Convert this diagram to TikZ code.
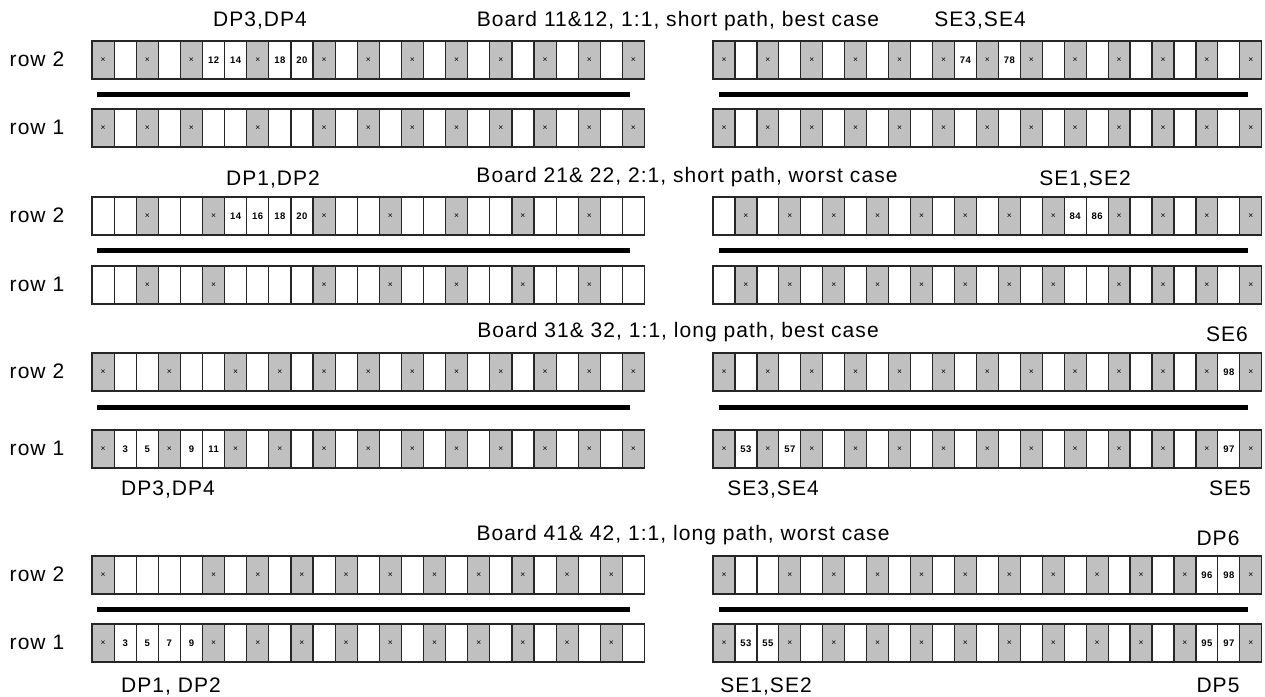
\documentclass[tikz,border=0pt]{standalone}
\usepackage{fontspec}
\setmainfont[LetterSpace=5]{Liberation Sans}
\usetikzlibrary{positioning,calc}
\definecolor{slotgray}{RGB}{192,192,192}
\tikzset{
  bd/slot/.style={draw=black!85, line width=1.2pt, fill=white, minimum height=38pt, inner sep=0pt, outer sep=0pt},
  bd/used/.style={bd/slot, fill=slotgray, font=\fontsize{8.5}{8.5}\selectfont},
  bd/frame/.style={draw=black!85, line width=1.4pt},
  bd/num/.style={font=\bfseries\fontsize{9.5}{9.5}\selectfont, inner sep=0pt},
  bd/bar/.style={line width=5pt, black},
  bd/title/.style={font=\fontsize{21}{21}\selectfont, inner sep=0pt, anchor=base},
  bd/rowlbl/.style={bd/title}
}
% one strip of 25 slots: name, left x, top y, slot width, grey slots
\newcommand{\slotrow}[5]{%
  \foreach \c in {1,...,25}
    \node[bd/slot, minimum width=#4pt] (#1-\c) at ({#2+(\c-0.5)*#4}, {#3+19}) {};
  \foreach \c in {#5}
    \node[bd/used, minimum width=#4pt] at (#1-\c) {×};
  \draw[bd/frame] (#1-1.north west) rectangle (#1-25.south east);
}
\newcommand{\slotnums}[2]{%
  \foreach \c/\t in {#2}
    \node[bd/num] at (#1-\c) {\t};
}

\begin{document}
\begin{tikzpicture}[x=1pt, y=-1pt]
  \useasboundingbox (0,0) rectangle (1265,696);

  % Board 11&12
  \node[bd/title] (t1) at (678,27) {Board 11\&12, 1:1, short path, best case};
  \node[bd/title] (t1dp) at (260,27) {DP3,DP4};
  \node[bd/title] (t1se) at (980,27) {SE3,SE4};
  \slotrow{b1r2L}{92}{41}{22.1}{1,3,5,8,11,13,15,17,19,21,23,25}
  \slotrow{b1r1L}{92}{109}{22.1}{1,3,5,8,11,13,15,17,19,21,23,25}
  \slotrow{b1r2R}{713}{41}{21.95}{1,3,...,25}
  \slotrow{b1r1R}{713}{109}{21.95}{1,3,...,25}
  \slotnums{b1r2L}{6/12,7/14,9/18,10/20}
  \slotnums{b1r2R}{12/74,14/78}

  % Board 21&22
  \node[bd/title] (t2) at (687,182) {Board 21\& 22, 2:1, short path, worst case};
  \node[bd/title] (t2dp) at (273,185) {DP1,DP2};
  \node[bd/title] (t2se) at (1085,185) {SE1,SE2};
  \slotrow{b2r2L}{92}{197}{22.1}{3,6,11,14,17,20,23}
  \slotrow{b2r1L}{92}{266}{22.1}{3,6,11,14,17,20,23}
  \slotrow{b2r2R}{713}{197}{21.95}{2,4,...,16,19,21,23,25}
  \slotrow{b2r1R}{713}{266}{21.95}{2,4,...,16,19,21,23,25}
  \slotnums{b2r2L}{7/14,8/16,9/18,10/20}
  \slotnums{b2r2R}{17/84,18/86}

  % Board 31&32
  \node[bd/title] (t3) at (678,337) {Board 31\& 32, 1:1, long path, best case};
  \node[bd/title] (t3se6) at (1227,341) {SE6};
  \slotrow{b3r2L}{92}{353}{22.1}{1,4,7,9,11,13,15,17,19,21,23,25}
  \slotrow{b3r1L}{92}{430}{22.1}{1,4,7,9,11,13,15,17,19,21,23,25}
  \slotrow{b3r2R}{713}{353}{21.95}{1,3,...,25}
  \slotrow{b3r1R}{713}{430}{21.95}{1,3,...,25}
  \slotnums{b3r1L}{2/3,3/5,5/9,6/11}
  \slotnums{b3r2R}{24/98}
  \slotnums{b3r1R}{2/53,4/57,24/97}
  \node[bd/title] (t3dp) at (168,495) {DP3,DP4};
  \node[bd/title] (t3se) at (773,495) {SE3,SE4};
  \node[bd/title] (t3se5) at (1230,495) {SE5};

  % Board 41&42
  \node[bd/title] (t4) at (683,540) {Board 41\& 42, 1:1, long path, worst case};
  \node[bd/title] (t4dp6) at (1218,545) {DP6};
  \slotrow{b4r2L}{92}{556}{22.1}{1,6,8,...,24}
  \slotrow{b4r1L}{92}{624}{22.1}{1,6,8,...,24}
  \slotrow{b4r2R}{713}{556}{21.95}{1,4,6,...,22,25}
  \slotrow{b4r1R}{713}{624}{21.95}{1,4,6,...,22,25}
  \slotnums{b4r1L}{2/3,3/5,4/7,5/9}
  \slotnums{b4r2R}{23/96,24/98}
  \slotnums{b4r1R}{2/53,3/55,23/95,24/97}
  \node[bd/title] (t4dp) at (171,692) {DP1, DP2};
  \node[bd/title] (t4se) at (766,692) {SE1,SE2};
  \node[bd/title] (t4dp5) at (1218,692) {DP5};

  % row labels and bars
  \foreach \b in {1,...,4} {
    \node[bd/rowlbl] (r2lbl\b) at ([yshift=-6pt]b\b r2L-1.center -| 37,0) {row 2};
    \node[bd/rowlbl] (r1lbl\b) at ([yshift=-6pt]b\b r1L-1.center -| 37,0) {row 1};
  }
  \foreach \y in {94,250,407,609} {
    \draw[bd/bar] (97,\y) -- (630,\y);
    \draw[bd/bar] (719,\y) -- (1248,\y);
  }
\end{tikzpicture}
\end{document}
